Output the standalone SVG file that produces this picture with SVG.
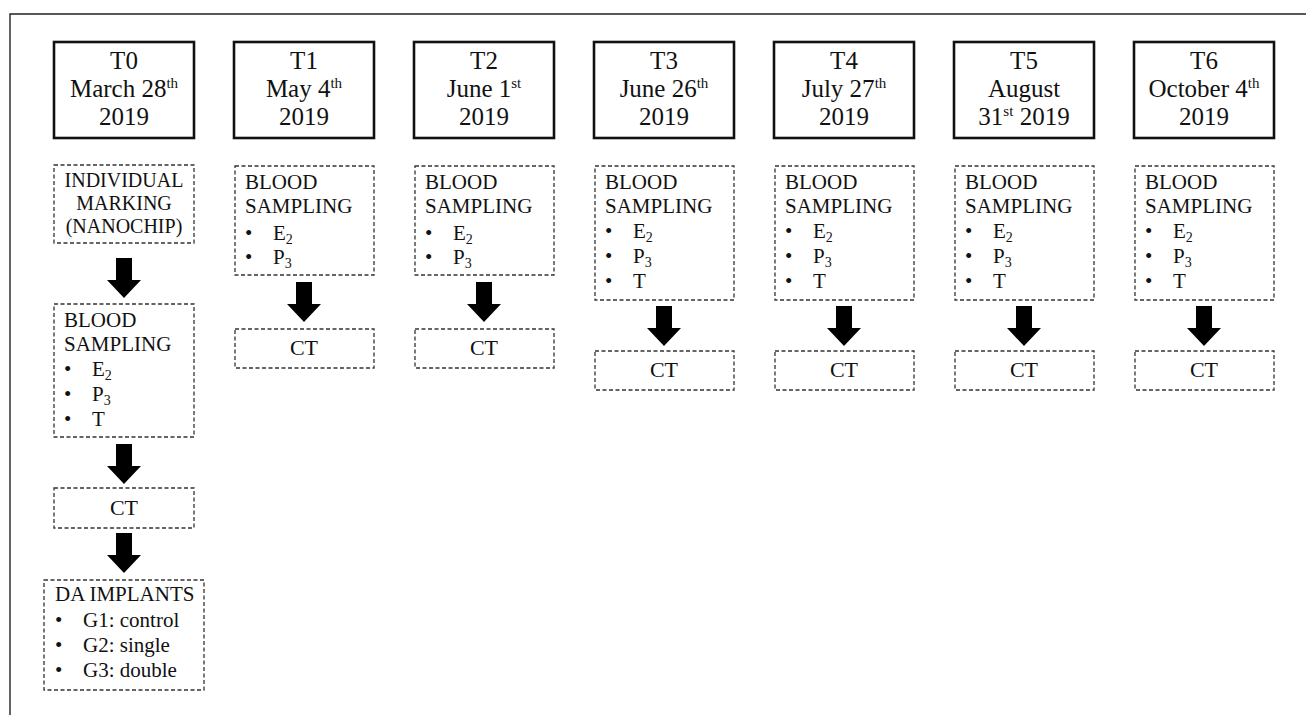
<svg xmlns="http://www.w3.org/2000/svg" width="1306" height="715" viewBox="0 0 1306 715">
<style>
text{font-family:"Liberation Serif","Times New Roman",serif;fill:#111}
.hd{stroke:#111;stroke-width:2.6;fill:#fff}
.db{stroke:#333;stroke-width:1.3;fill:#fff;stroke-dasharray:4 2.5}
.ht{font-size:25px;text-anchor:middle}
.bt{font-size:21px}
.ct{font-size:22px;text-anchor:middle}
.mk{font-size:20px;text-anchor:middle}
.sup{font-size:15px}
.sub{font-size:14px}
.arr{fill:#000}
</style>
<defs>
<path id="ar" d="M-8,0 H8 V22 H17 L0,40 L-17,22 H-8 Z"/>
</defs>
<rect x="0" y="0" width="1306" height="715" fill="#fff"/>
<path d="M10,715 V14 H1306" fill="none" stroke="#222" stroke-width="1.4"/>

<!-- T0 -->
<g id="t0">
<rect class="hd" x="54" y="42" width="140" height="96"/>
<text class="ht" x="124" y="69">T0</text>
<text class="ht" x="124" y="97">March 28<tspan class="sup" dy="-9">th</tspan></text>
<text class="ht" x="124" y="125">2019</text>
</g>
<g id="t0-marking">
<rect class="db" x="54" y="165" width="140" height="78"/>
<text class="mk" x="124" y="187">INDIVIDUAL</text>
<text class="mk" x="124" y="210">MARKING</text>
<text class="mk" x="124" y="233">(NANOCHIP)</text>
</g>
<g id="t0-blood">
<rect class="db" x="54" y="304" width="140" height="133"/>
<text class="bt" x="64" y="327">BLOOD</text>
<text class="bt" x="64" y="351">SAMPLING</text>
<text class="bt" x="64" y="376">•</text><text class="bt" x="92" y="376">E<tspan class="sub" dy="4">2</tspan></text>
<text class="bt" x="64" y="401">•</text><text class="bt" x="92" y="401">P<tspan class="sub" dy="4">3</tspan></text>
<text class="bt" x="64" y="426">•</text><text class="bt" x="92" y="426">T</text>
</g>
<g id="t0-ct">
<rect class="db" x="54" y="488" width="140" height="40"/>
<text class="ct" x="124" y="515">CT</text>
</g>
<g id="t0-implants">
<rect class="db" x="44" y="580" width="160" height="110"/>
<text class="bt" x="55" y="601">DA IMPLANTS</text>
<text class="bt" x="55" y="627">•</text><text class="bt" x="83" y="627">G1: control</text>
<text class="bt" x="55" y="652">•</text><text class="bt" x="83" y="652">G2: single</text>
<text class="bt" x="55" y="677">•</text><text class="bt" x="83" y="677">G3: double</text>
</g>

<!-- T1 -->
<g id="t1">
<rect class="hd" x="234" y="42" width="140" height="96"/>
<text class="ht" x="304" y="69">T1</text>
<text class="ht" x="304" y="97">May 4<tspan class="sup" dy="-9">th</tspan></text>
<text class="ht" x="304" y="125">2019</text>
</g>
<g id="t1-blood">
<rect class="db" x="235" y="166" width="139" height="109"/>
<text class="bt" x="245" y="189">BLOOD</text>
<text class="bt" x="245" y="213">SAMPLING</text>
<text class="bt" x="245" y="240">•</text><text class="bt" x="273" y="240">E<tspan class="sub" dy="4">2</tspan></text>
<text class="bt" x="245" y="264">•</text><text class="bt" x="273" y="264">P<tspan class="sub" dy="4">3</tspan></text>
</g>
<g id="t1-ct">
<rect class="db" x="235" y="329" width="139" height="39"/>
<text class="ct" x="304" y="355">CT</text>
</g>

<!-- T2 -->
<g id="t2">
<rect class="hd" x="414" y="42" width="140" height="96"/>
<text class="ht" x="484" y="69">T2</text>
<text class="ht" x="484" y="97">June 1<tspan class="sup" dy="-9">st</tspan></text>
<text class="ht" x="484" y="125">2019</text>
</g>
<g id="t2-blood">
<rect class="db" x="415" y="166" width="139" height="109"/>
<text class="bt" x="425" y="189">BLOOD</text>
<text class="bt" x="425" y="213">SAMPLING</text>
<text class="bt" x="425" y="240">•</text><text class="bt" x="453" y="240">E<tspan class="sub" dy="4">2</tspan></text>
<text class="bt" x="425" y="264">•</text><text class="bt" x="453" y="264">P<tspan class="sub" dy="4">3</tspan></text>
</g>
<g id="t2-ct">
<rect class="db" x="415" y="329" width="139" height="39"/>
<text class="ct" x="484" y="355">CT</text>
</g>

<!-- T3 -->
<g id="t3">
<rect class="hd" x="594" y="42" width="140" height="96"/>
<text class="ht" x="664" y="69">T3</text>
<text class="ht" x="664" y="97">June 26<tspan class="sup" dy="-9">th</tspan></text>
<text class="ht" x="664" y="125">2019</text>
</g>
<g id="t3-blood">
<rect class="db" x="595" y="166" width="139" height="134"/>
<text class="bt" x="605" y="189">BLOOD</text>
<text class="bt" x="605" y="213">SAMPLING</text>
<text class="bt" x="605" y="238">•</text><text class="bt" x="633" y="238">E<tspan class="sub" dy="4">2</tspan></text>
<text class="bt" x="605" y="263">•</text><text class="bt" x="633" y="263">P<tspan class="sub" dy="4">3</tspan></text>
<text class="bt" x="605" y="288">•</text><text class="bt" x="633" y="288">T</text>
</g>
<g id="t3-ct">
<rect class="db" x="595" y="351" width="139" height="39"/>
<text class="ct" x="664" y="377">CT</text>
</g>

<!-- T4 -->
<g id="t4">
<rect class="hd" x="774" y="42" width="140" height="96"/>
<text class="ht" x="844" y="69">T4</text>
<text class="ht" x="844" y="97">July 27<tspan class="sup" dy="-9">th</tspan></text>
<text class="ht" x="844" y="125">2019</text>
</g>
<g id="t4-blood">
<rect class="db" x="775" y="166" width="139" height="134"/>
<text class="bt" x="785" y="189">BLOOD</text>
<text class="bt" x="785" y="213">SAMPLING</text>
<text class="bt" x="785" y="238">•</text><text class="bt" x="813" y="238">E<tspan class="sub" dy="4">2</tspan></text>
<text class="bt" x="785" y="263">•</text><text class="bt" x="813" y="263">P<tspan class="sub" dy="4">3</tspan></text>
<text class="bt" x="785" y="288">•</text><text class="bt" x="813" y="288">T</text>
</g>
<g id="t4-ct">
<rect class="db" x="775" y="351" width="139" height="39"/>
<text class="ct" x="844" y="377">CT</text>
</g>

<!-- T5 -->
<g id="t5">
<rect class="hd" x="954" y="42" width="140" height="96"/>
<text class="ht" x="1024" y="69">T5</text>
<text class="ht" x="1024" y="97">August</text>
<text class="ht" x="1024" y="125">31<tspan class="sup" dy="-9">st</tspan><tspan dy="9"> 2019</tspan></text>
</g>
<g id="t5-blood">
<rect class="db" x="955" y="166" width="139" height="134"/>
<text class="bt" x="965" y="189">BLOOD</text>
<text class="bt" x="965" y="213">SAMPLING</text>
<text class="bt" x="965" y="238">•</text><text class="bt" x="993" y="238">E<tspan class="sub" dy="4">2</tspan></text>
<text class="bt" x="965" y="263">•</text><text class="bt" x="993" y="263">P<tspan class="sub" dy="4">3</tspan></text>
<text class="bt" x="965" y="288">•</text><text class="bt" x="993" y="288">T</text>
</g>
<g id="t5-ct">
<rect class="db" x="955" y="351" width="139" height="39"/>
<text class="ct" x="1024" y="377">CT</text>
</g>

<!-- T6 -->
<g id="t6">
<rect class="hd" x="1134" y="42" width="140" height="96"/>
<text class="ht" x="1204" y="69">T6</text>
<text class="ht" x="1204" y="97">October 4<tspan class="sup" dy="-9">th</tspan></text>
<text class="ht" x="1204" y="125">2019</text>
</g>
<g id="t6-blood">
<rect class="db" x="1135" y="166" width="139" height="134"/>
<text class="bt" x="1145" y="189">BLOOD</text>
<text class="bt" x="1145" y="213">SAMPLING</text>
<text class="bt" x="1145" y="238">•</text><text class="bt" x="1173" y="238">E<tspan class="sub" dy="4">2</tspan></text>
<text class="bt" x="1145" y="263">•</text><text class="bt" x="1173" y="263">P<tspan class="sub" dy="4">3</tspan></text>
<text class="bt" x="1145" y="288">•</text><text class="bt" x="1173" y="288">T</text>
</g>
<g id="t6-ct">
<rect class="db" x="1135" y="351" width="139" height="39"/>
<text class="ct" x="1204" y="377">CT</text>
</g>

<g id="connectors" class="arr">
<use href="#ar" x="124" y="258"/>
<use href="#ar" x="124" y="444"/>
<use href="#ar" x="124" y="533"/>
<use href="#ar" x="304" y="282"/>
<use href="#ar" x="484" y="282"/>
<use href="#ar" x="664" y="306"/>
<use href="#ar" x="844" y="306"/>
<use href="#ar" x="1024" y="306"/>
<use href="#ar" x="1204" y="306"/>
</g>
</svg>
